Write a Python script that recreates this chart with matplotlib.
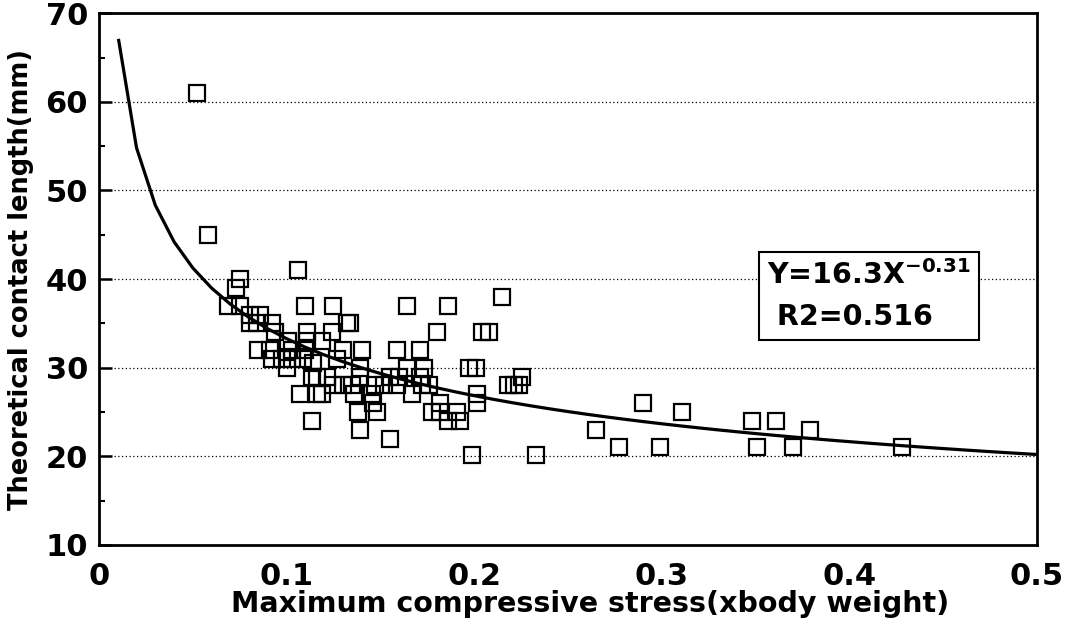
import numpy as np
import matplotlib
matplotlib.use("Agg")
import matplotlib.pyplot as plt

# Measured points: maximum compressive stress (x body weight) vs contact length (mm)
stress = [
    0.052, 0.058, 0.106, 0.075, 0.073, 0.069, 0.075, 0.110, 0.125,
    0.0805, 0.086, 0.0805, 0.084, 0.092, 0.094, 0.101, 0.111, 0.124,
    0.132, 0.134, 0.111, 0.119, 0.085, 0.091, 0.103, 0.110, 0.130,
    0.140, 0.092, 0.0975, 0.103, 0.109, 0.114, 0.127, 0.100, 0.1135,
    0.116, 0.1215, 0.139, 0.139, 0.125, 0.130, 0.135, 0.136, 0.147,
    0.1455, 0.152, 0.107, 0.116, 0.119, 0.146, 0.138, 0.148, 0.1135,
    0.139, 0.155, 0.164, 0.186, 0.215, 0.180, 0.204, 0.208, 0.159,
    0.171, 0.164, 0.173, 0.197, 0.201, 0.155, 0.160, 0.171, 0.172,
    0.176, 0.159, 0.167, 0.2015, 0.2015, 0.218, 0.221, 0.224, 0.2255,
    0.182, 0.1775, 0.182, 0.191, 0.186, 0.1925, 0.199, 0.233,
    0.290, 0.311, 0.265, 0.277, 0.299, 0.348, 0.361, 0.379, 0.351,
    0.370, 0.428,
]
length = [
    61, 45, 41, 40, 39, 37, 37, 37, 37,
    36, 36, 35, 35, 35, 34, 33, 34, 34,
    35, 35, 33, 33, 32, 32, 32, 32, 32,
    32, 31, 31, 31, 31, 30.5, 31, 30, 29,
    29, 29, 30, 29, 28, 28, 28, 27, 28,
    27, 28, 27, 27, 27, 26, 25, 25, 24,
    23, 22, 37, 37, 38, 34, 34, 34, 32,
    32, 30, 30, 30, 30, 29, 29, 29, 28,
    28, 28, 27, 27, 26, 28, 28, 28, 29,
    26, 25, 25, 25, 24, 24, 20.2, 20.2,
    26, 25, 23, 21, 21, 24, 24, 23, 21,
    21, 21,
]

# Power-law fit shown on the chart: Y = a * X^b
fit_a = 16.3
fit_b = -0.31
fit_r2 = 0.516

plt.rcParams["font.family"] = ["DejaVu Sans"]
plt.rcParams["font.weight"] = "bold"
plt.rcParams["mathtext.default"] = "bf"

fig = plt.figure(figsize=(10.67, 6.30), dpi=100)
ax = fig.add_axes([0.0928, 0.135, 0.879, 0.844])

# Fitted curve (drawn as straight segments, like the original)
curve_x = np.concatenate([[0.0105], np.arange(0.02, 0.5001, 0.01)])
curve_y = fit_a * curve_x ** fit_b
ax.plot(curve_x, curve_y, color="black", linewidth=2.3, zorder=2)

# Scatter of measurements
ax.plot(stress, length, linestyle="none", marker="s", markersize=11.5,
        markerfacecolor="none", markeredgecolor="black",
        markeredgewidth=1.6, zorder=3)

# Axes limits and ticks
ax.set_xlim(0, 0.5)
ax.set_ylim(10, 70)
ax.set_xticks([0, 0.1, 0.2, 0.3, 0.4, 0.5])
ax.set_xticklabels(["0", "0.1", "0.2", "0.3", "0.4", "0.5"])
ax.set_yticks(np.arange(10, 71, 10))
ax.set_yticks(np.arange(15, 70, 10), minor=True)
ax.tick_params(axis="y", which="major", direction="in", length=9, width=1.8,
               labelsize=22, pad=8)
ax.tick_params(axis="y", which="minor", direction="in", length=4.5, width=1.5)
ax.tick_params(axis="x", which="major", length=0, labelsize=22, pad=12)
ax.tick_params(axis="both", which="both", right=False, top=False)
for lbl in ax.get_xticklabels() + ax.get_yticklabels():
    lbl.set_fontweight("bold")

for side in ["left", "right", "top", "bottom"]:
    ax.spines[side].set_linewidth(2.0)

# Dotted horizontal grid
for gy in [20, 30, 40, 50, 60]:
    ax.axhline(gy, color="black", linestyle=(0, (1, 2)), linewidth=0.9, zorder=1)

# Axis labels
ax.set_xlabel("Maximum compressive stress(xbody weight)", fontsize=20.5,
              fontweight="bold")
ax.xaxis.set_label_coords(0.524, -0.085)
ax.set_ylabel("Theoretical contact length(mm)", fontsize=18.5,
              fontweight="bold", labelpad=8)

# Equation box
ax.text(0.4105, 38.1, r"Y=16.3X$^{-0.31}$" + "\n" + " R2=" + str(fit_r2),
        fontsize=20.5, fontweight="bold", ha="center", va="center",
        multialignment="left", linespacing=1.6, zorder=4,
        bbox=dict(boxstyle="square,pad=0.3", facecolor="white",
                  edgecolor="black", linewidth=1.5))

fig.savefig("out.png", dpi=100)
plt.close(fig)
